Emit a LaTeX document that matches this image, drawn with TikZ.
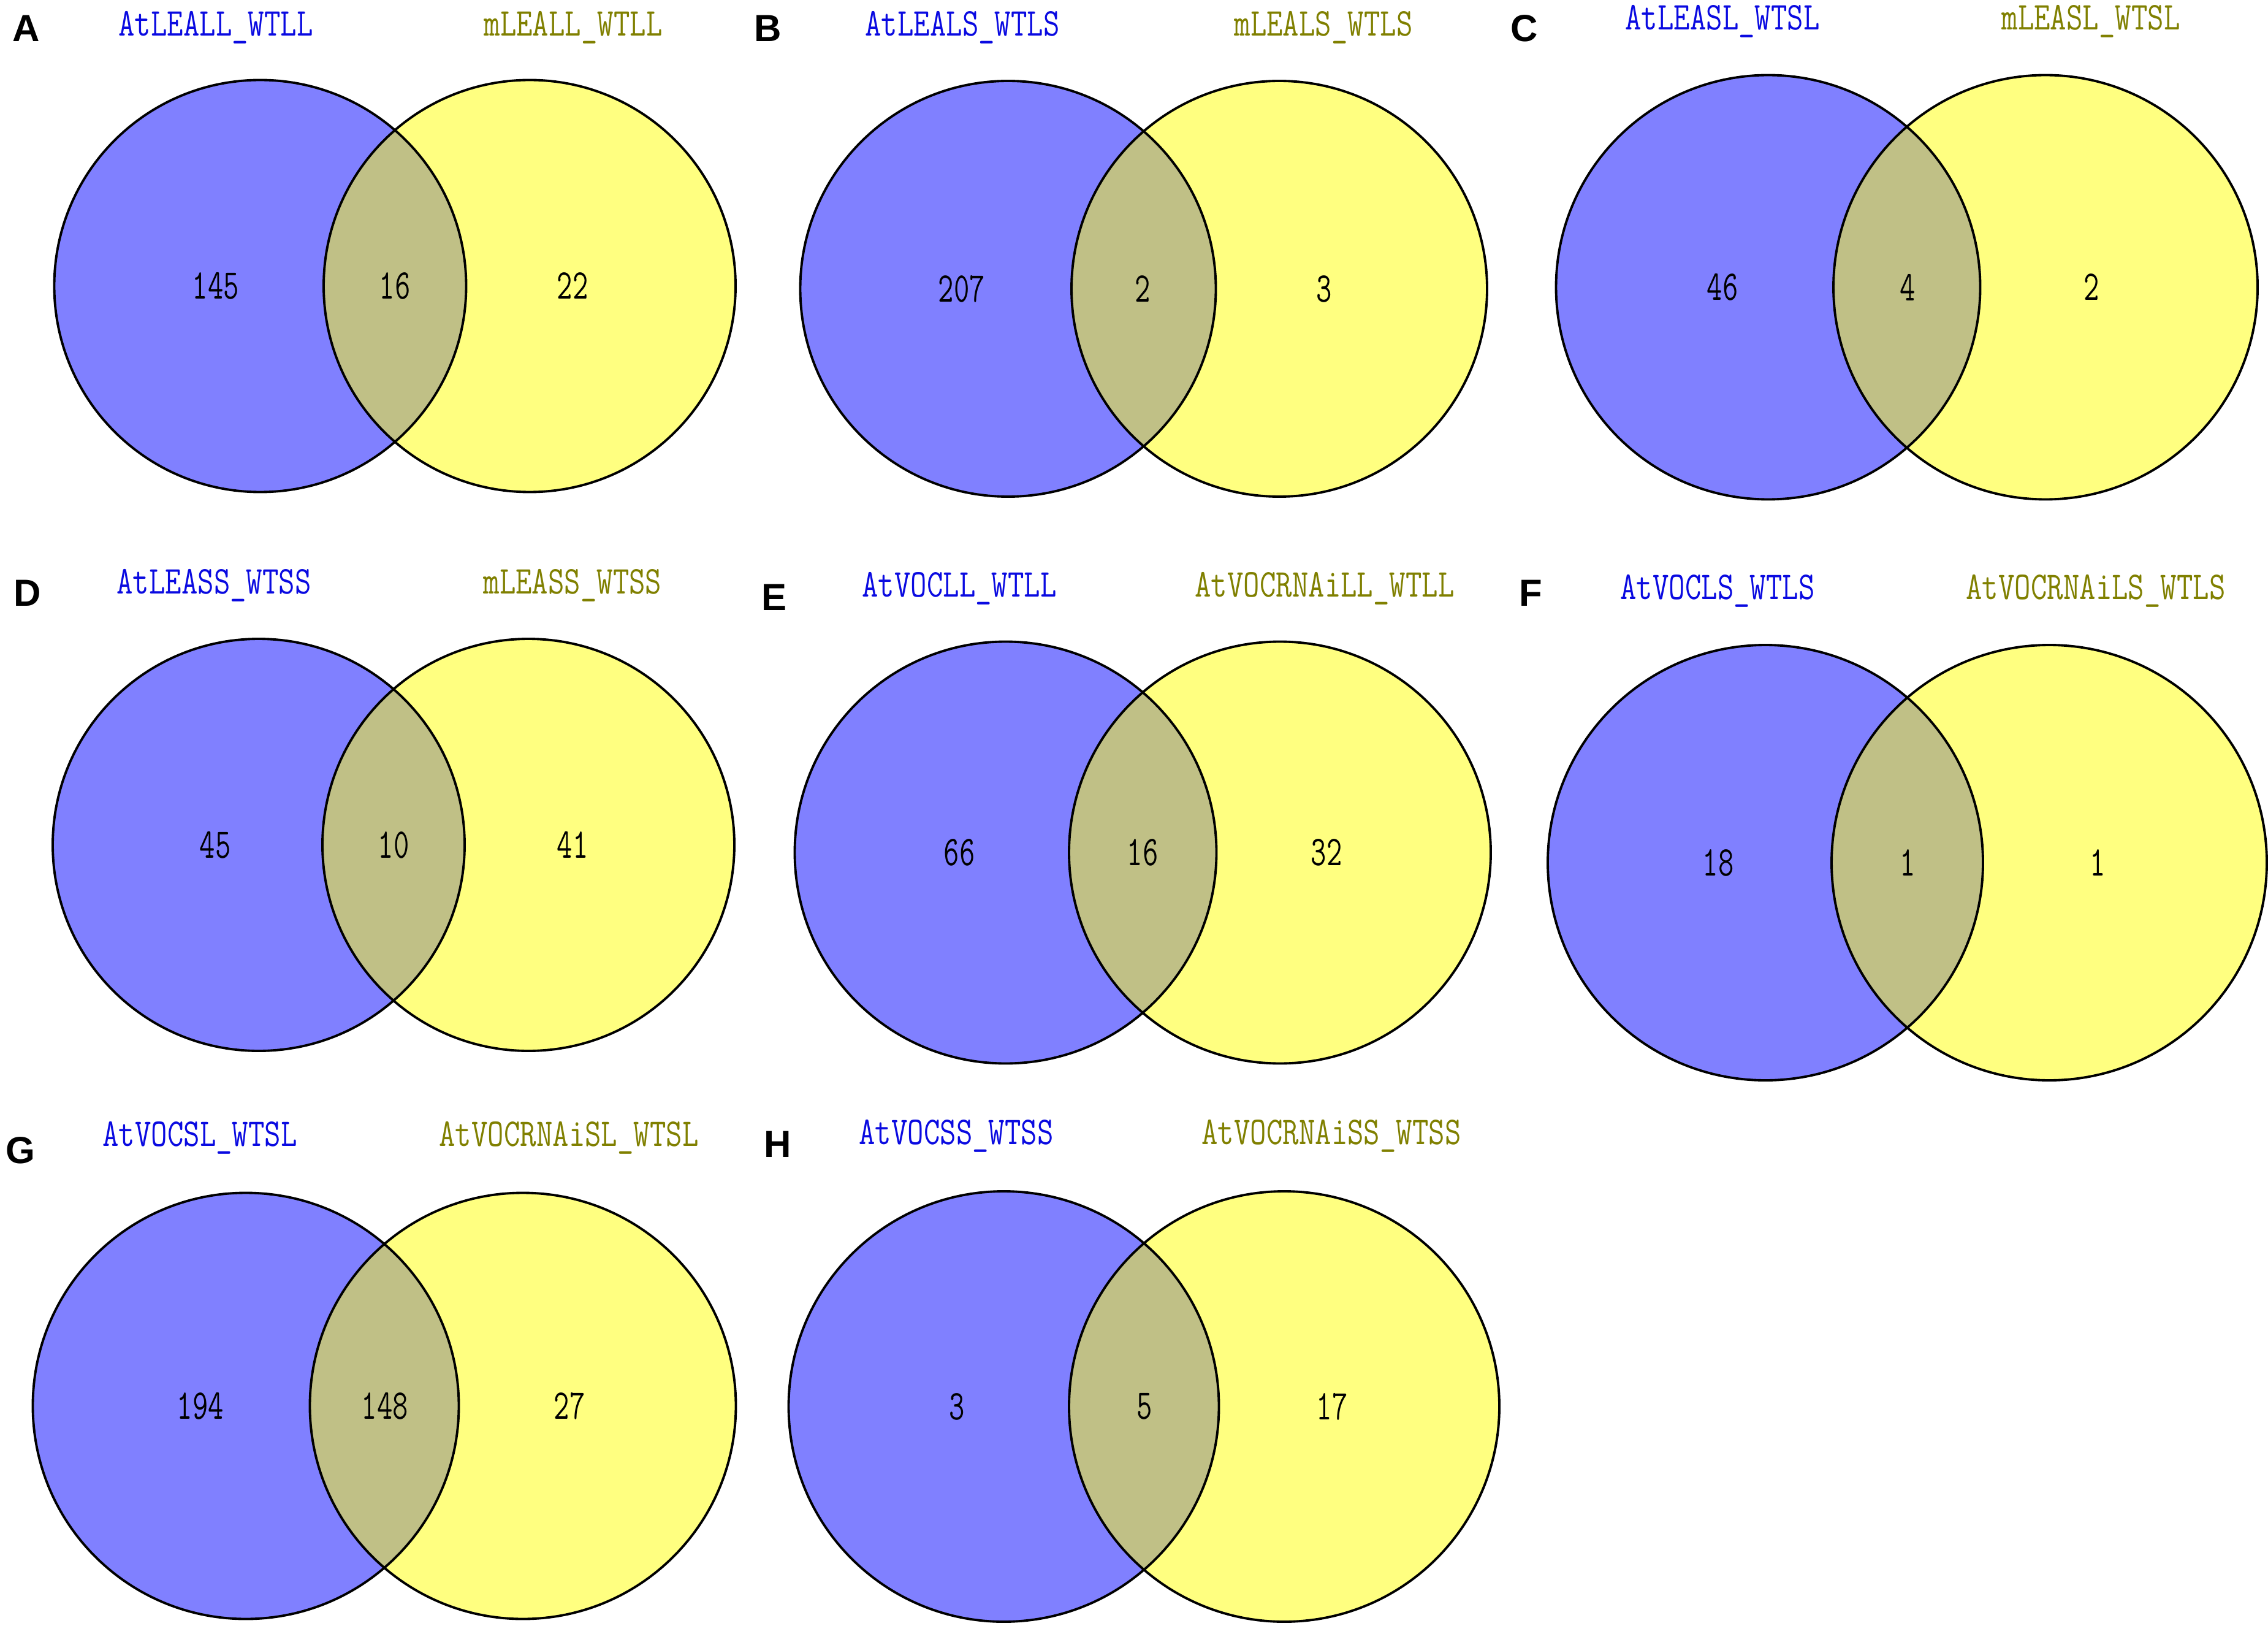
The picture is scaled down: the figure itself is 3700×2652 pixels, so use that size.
\documentclass[tikz,border=0pt]{standalone}
\usepackage{graphicx}
\usepackage{fontspec}
\setmainfont{Liberation Serif}
\newfontfamily\letf{Liberation Sans}
\definecolor{vblue}{RGB}{128,128,255}
\definecolor{vyellow}{RGB}{255,255,128}
\definecolor{vover}{RGB}{192,192,134}
\definecolor{lblue}{RGB}{10,10,225}
\definecolor{lolive}{RGB}{128,128,0}
\newcommand\stl[1]{\scalebox{1}[1.25]{#1}}
\newcommand\stn[1]{\scalebox{1}[1.4]{#1}}
\newcommand\vennpair[5]{%
  \coordinate (#1L) at (#2,#4);
  \coordinate (#1R) at (#3,#4);
  \fill[vblue] (#1L) circle[radius=#5];
  \fill[vyellow] (#1R) circle[radius=#5];
  \begin{scope}
    \clip (#1L) circle[radius=#5];
    \fill[vover] (#1R) circle[radius=#5];
  \end{scope}
  \draw[vline] (#1L) circle[radius=#5];
  \draw[vline] (#1R) circle[radius=#5];
}
\begin{document}
\begin{tikzpicture}[x=0.01cm,y=-0.01cm,
  vline/.style={draw=black,line width=1.1pt},
  num/.style={font=\ttfamily\fontsize{14}{14}\selectfont,inner sep=0pt,anchor=center},
  lblL/.style={font=\ttfamily\fontsize{14.6}{15}\selectfont,text=lblue,inner sep=0pt,anchor=base},
  lblR/.style={font=\ttfamily\fontsize{14.6}{15}\selectfont,text=lolive,inner sep=0pt,anchor=base},
  panel/.style={font=\letf\bfseries\fontsize{17.5}{18}\selectfont,inner sep=0pt,anchor=base west}]
\useasboundingbox (0,0) rectangle (3700,2652);
\fill[white] (0,0) rectangle (3700,2652);

% Panel A
\vennpair{A}{424.5}{864}{466.5}{336}
\node[panel] (pA) at (20,68) {A};
\node[lblL] (tAL) at (352,59) {\stl{AtLEALL\_WTLL}};
\node[lblR] (tAR) at (935,59) {\stl{mLEALL\_WTLL}};
\node[num] (nA1) at (352,466.5) {\stn{145}};
\node[num] (nA2) at (644,466.5) {\stn{16}};
\node[num] (nA3) at (934,466.5) {\stn{22}};

% Panel B
\vennpair{B}{1644.5}{2087}{471}{339}
\node[panel] (pB) at (1230,68) {B};
\node[lblL] (tBL) at (1570,59) {\stl{AtLEALS\_WTLS}};
\node[lblR] (tBR) at (2159,59) {\stl{mLEALS\_WTLS}};
\node[num] (nB1) at (1569,471) {\stn{207}};
\node[num] (nB2) at (1864,471) {\stn{2}};
\node[num] (nB3) at (2160,471) {\stn{3}};

% Panel C
\vennpair{C}{2884.5}{3337}{468.5}{346}
\node[panel] (pC) at (2464,68) {C};
\node[lblL] (tCL) at (2810,49) {\stl{AtLEASL\_WTSL}};
\node[lblR] (tCR) at (3411,49) {\stl{mLEASL\_WTSL}};
\node[num] (nC1) at (2810,468.5) {\stn{46}};
\node[num] (nC2) at (3112,468.5) {\stn{4}};
\node[num] (nC3) at (3412,468.5) {\stn{2}};

% Panel D
\vennpair{D}{422}{862}{1378}{336}
\node[panel] (pD) at (22,988) {D};
\node[lblL] (tDL) at (349,968) {\stl{AtLEASS\_WTSS}};
\node[lblR] (tDR) at (934,968) {\stl{mLEASS\_WTSS}};
\node[num] (nD1) at (351,1378) {\stn{45}};
\node[num] (nD2) at (642,1378) {\stn{10}};
\node[num] (nD3) at (934,1378) {\stn{41}};

% Panel E
\vennpair{E}{1640.5}{2088}{1390.5}{344}
\node[panel] (pE) at (1242,995) {E};
\node[lblL] (tEL) at (1565,973) {\stl{AtVOCLL\_WTLL}};
\node[lblR] (tER) at (2161,973) {\stl{AtVOCRNAiLL\_WTLL}};
\node[num] (nE1) at (1565,1390.5) {\stn{66}};
\node[num] (nE2) at (1864,1390.5) {\stn{16}};
\node[num] (nE3) at (2164,1390.5) {\stn{32}};

% Panel F
\vennpair{F}{2880}{3343}{1407}{355}
\node[panel] (pF) at (2478,988) {F};
\node[lblL] (tFL) at (2802,977) {\stl{AtVOCLS\_WTLS}};
\node[lblR] (tFR) at (3419,977) {\stl{AtVOCRNAiLS\_WTLS}};
\node[num] (nF1) at (2803,1407) {\stn{18}};
\node[num] (nF2) at (3112,1407) {\stn{1}};
\node[num] (nF3) at (3422,1407) {\stn{1}};

% Panel G
\vennpair{G}{401}{853}{2293}{347.5}
\node[panel] (pG) at (9,1897) {G};
\node[lblL] (tGL) at (326,1869) {\stl{AtVOCSL\_WTSL}};
\node[lblR] (tGR) at (928,1869) {\stl{AtVOCRNAiSL\_WTSL}};
\node[num] (nG1) at (327,2293) {\stn{194}};
\node[num] (nG2) at (628,2293) {\stn{148}};
\node[num] (nG3) at (929,2293) {\stn{27}};

% Panel H
\vennpair{H}{1637.5}{2095}{2294}{351}
\node[panel] (pH) at (1246,1887) {H};
\node[lblL] (tHL) at (1560,1866) {\stl{AtVOCSS\_WTSS}};
\node[lblR] (tHR) at (2172,1866) {\stl{AtVOCRNAiSS\_WTSS}};
\node[num] (nH1) at (1561,2294) {\stn{3}};
\node[num] (nH2) at (1867,2294) {\stn{5}};
\node[num] (nH3) at (2173,2294) {\stn{17}};
\end{tikzpicture}
\end{document}
